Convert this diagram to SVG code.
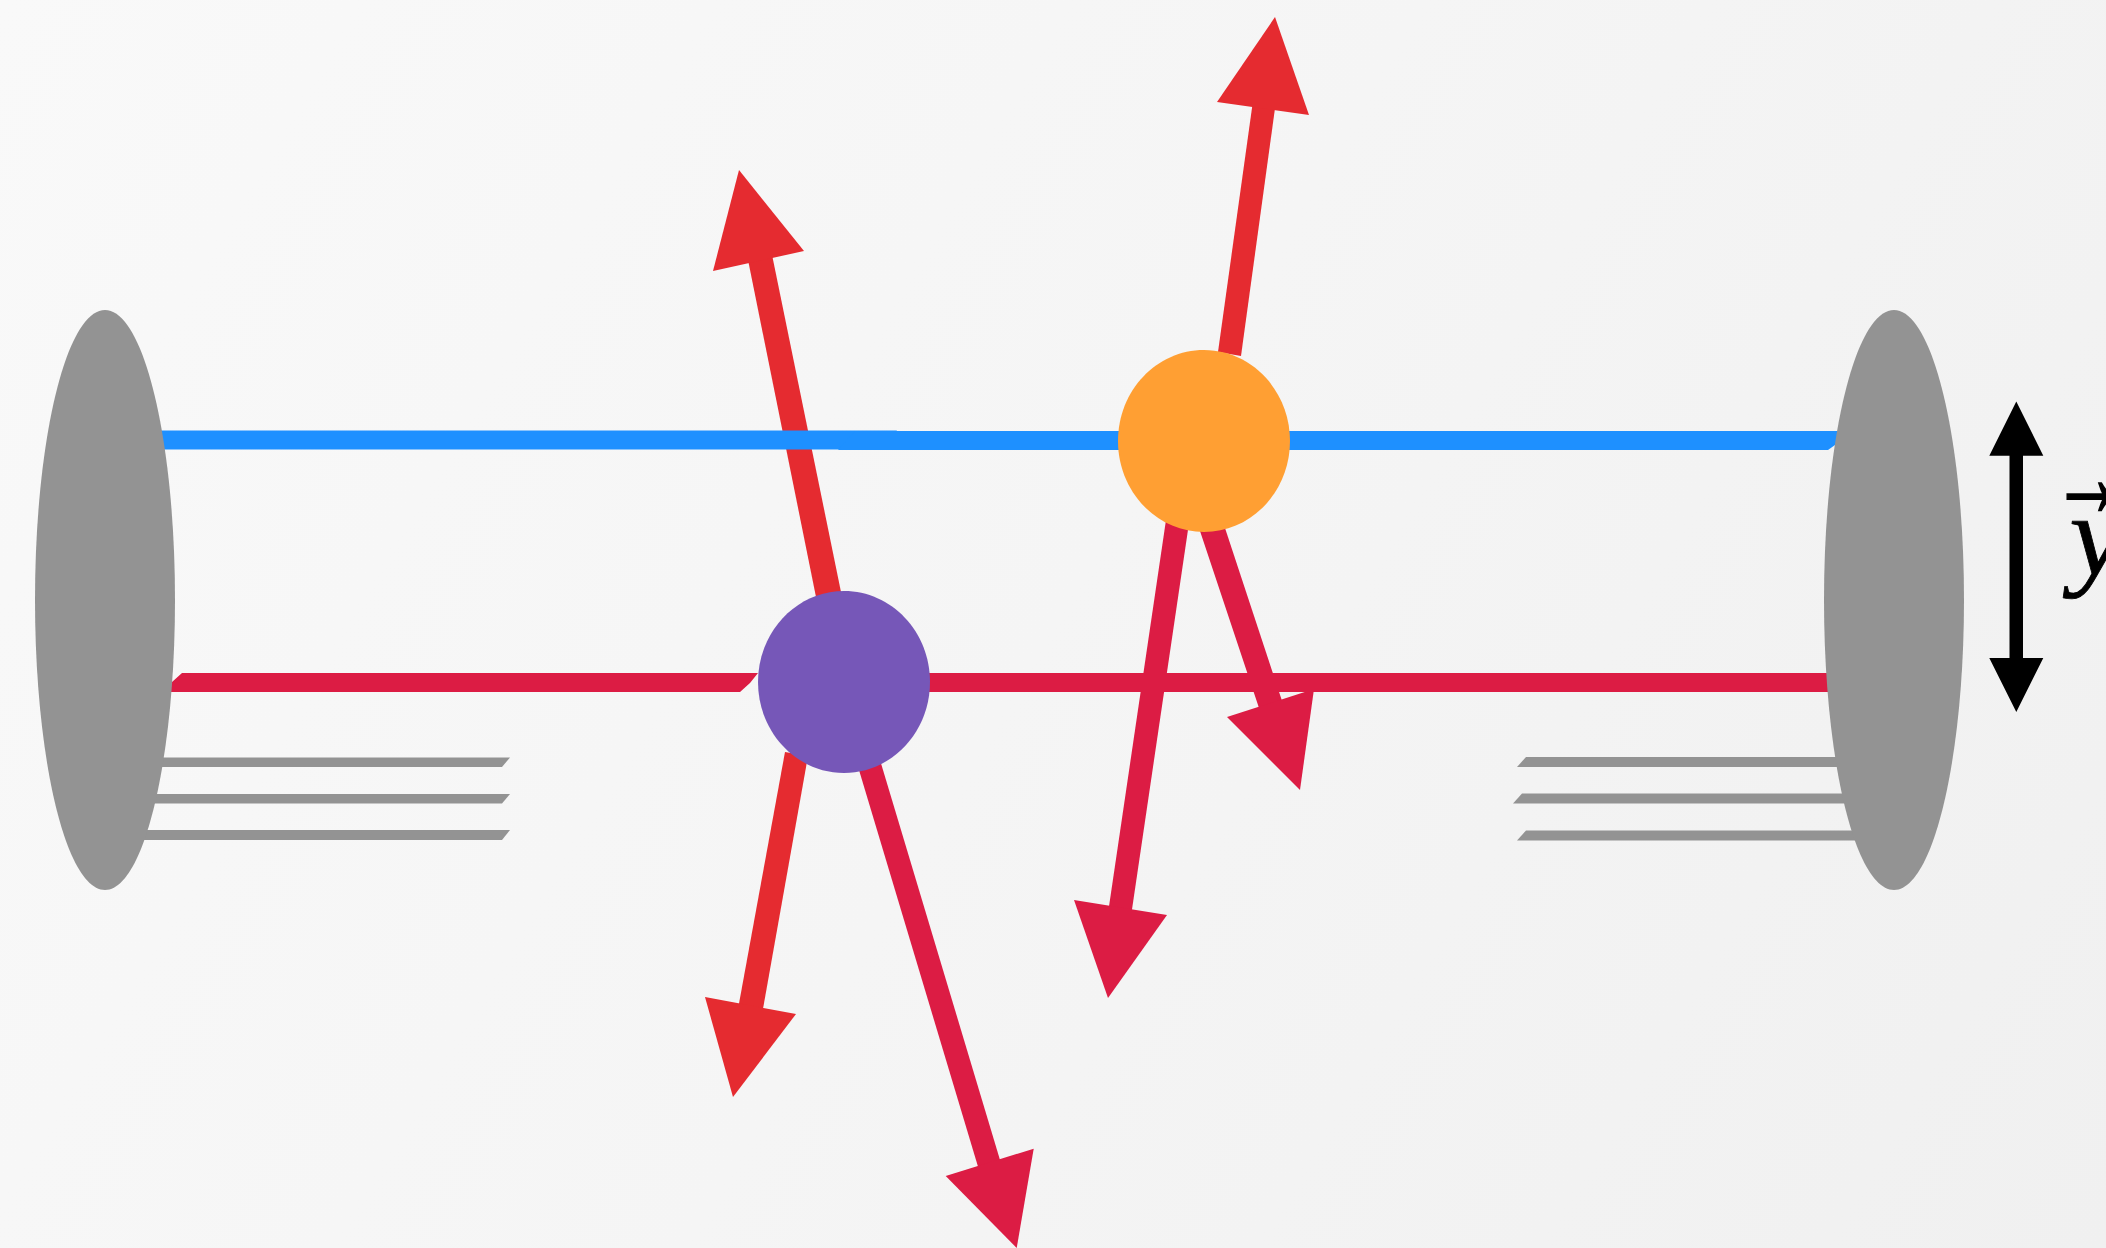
<svg xmlns="http://www.w3.org/2000/svg" width="2106" height="1248" viewBox="0 0 2106 1248">
<style>
.red{fill:#e52b30}.crim{fill:#dc1c44}.blue{fill:#1e90ff}.gray{fill:#939393}.blk{fill:#000}
.t{font-family:"Liberation Serif","Times New Roman",serif;fill:#000}
</style>
<defs><linearGradient id="bg" gradientUnits="userSpaceOnUse" x1="0" y1="0" x2="2106" y2="1248"><stop offset="0" stop-color="#f9f9f9"/><stop offset="0.5" stop-color="#f5f5f5"/><stop offset="1" stop-color="#f0f0f0"/></linearGradient></defs>
<rect width="2106" height="1248" fill="url(#bg)"/>
<g id="connectors">
<g id="arrow-purple-up" class="red"><polygon points="816,597 841,592 769,240 744,240"/><polygon points="739,170 713,271 804,251"/></g>
<g id="arrow-orange-up" class="red"><polygon points="1218,352 1241,356 1277.5,90 1254.5,90"/><polygon points="1275,17 1217,102 1309,115"/></g>
<g id="arrow-purple-down-left" class="red"><polygon points="785,752 808,756 761,1020 736,1020"/><polygon points="705,997 796,1014 733,1097"/></g>
<g id="arrow-purple-down-right" class="crim"><polygon points="856,760 880,760 1009,1190 985,1190"/><polygon points="945.7,1176 1033.7,1148.7 1016.7,1248"/></g>
<g id="arrow-orange-down-left" class="crim"><polygon points="1166,520 1189,523 1130,923 1107,920"/><polygon points="1074,900 1167,915 1108,998"/></g>
<g id="arrow-orange-down-right" class="crim"><polygon points="1199,528 1224,525 1286,713 1263,720"/><polygon points="1227,717 1314,689 1300,790"/></g>
<g id="wire-blue"><polygon class="blue" points="120,430.6 897,430.6 880,449.6 120,449.6"/><polygon class="blue" points="855,431 1846,431 1835,445 1828,450 838,450"/></g>
<g id="wire-crimson"><polygon class="crim" points="162,692 172,682 182,673 770,673 758,673 750,683 740,692"/><rect class="crim" x="900" y="673" width="950" height="19"/></g>
<g id="leads-left" class="gray"><polygon points="130,757.5 510,757.5 502,767 130,767"/><polygon points="130,794 510,794 502,803.5 130,803.5"/><polygon points="130,830 510,830 502,840 130,840"/></g>
<g id="leads-right" class="gray"><polygon points="1526,757 1870,757 1870,767 1517,767"/><polygon points="1522,793.5 1870,793.5 1870,803.5 1513,803.5"/><polygon points="1526,830.5 1870,830.5 1870,840.5 1517,840.5"/></g>
</g>
<g id="plate-left"><path class="gray" d="M35 600C35 439.8 66.3 310 105 310C143.7 310 175 439.8 175 600C175 760.2 143.7 890 105 890C66.3 890 35 760.2 35 600Z"/></g>
<g id="plate-right"><path class="gray" d="M1824 600C1824 439.8 1855.3 310 1894 310C1932.7 310 1964 439.8 1964 600C1964 760.2 1932.7 890 1894 890C1855.3 890 1824 760.2 1824 600Z"/></g>
<g id="node-purple"><path d="M758 682C758 631.7 796.5 591 844 591C891.5 591 930 631.7 930 682C930 732.3 891.5 773 844 773C796.5 773 758 732.3 758 682Z" fill="#7657b8"/></g>
<g id="node-orange"><path d="M1118 441C1118 390.7 1156.5 350 1204 350C1251.5 350 1290 390.7 1290 441C1290 491.3 1251.5 532 1204 532C1156.5 532 1118 491.3 1118 441Z" fill="#ff9f33"/></g>
<g id="y-arrow" class="blk"><polygon points="2016.3,401.5 2043.3,455.7 2023,455.7 2023,658 2043.3,658 2016.3,712 1989.3,658 2009.5,658 2009.5,455.7 1989.3,455.7"/></g>
<g id="y-label"><text class="t" transform="translate(2052,516) scale(.65,1)" font-size="115" stroke="#000" stroke-width="2">→</text><text class="t" transform="translate(2072,574) skewX(3) scale(1.05,1)" font-size="115" font-style="italic" stroke="#000" stroke-width=".8">y</text></g>
</svg>
